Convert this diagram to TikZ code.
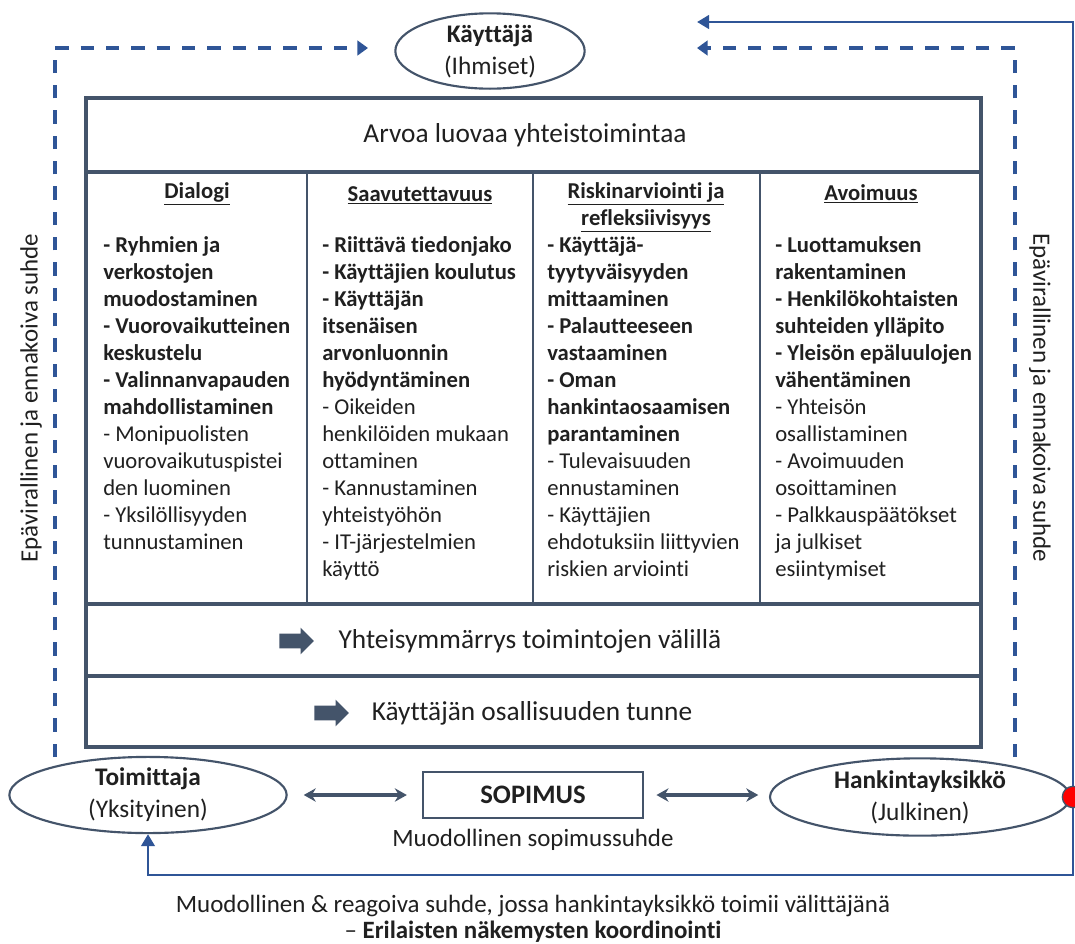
\documentclass[tikz,border=0pt]{standalone}
\usepackage{fontspec}
\setmainfont{Carlito}[Ligatures=NoCommon]
\usepackage{xcolor}
\usetikzlibrary{arrows.meta,
  positioning,
  shapes.geometric,
  shapes.arrows}

\definecolor{framegray}{HTML}{44546A}
\definecolor{linkblue}{HTML}{2F5597}
\definecolor{inkblack}{HTML}{202020}

\tikzset{
  party/.style={ellipse,draw=framegray,line width=1.6pt,fill=white,
    align=center,inner sep=0pt,text=inkblack,font=\fontsize{19}{24}\selectfont},
  frame/.style={framegray,line width=3pt},
  divider/.style={framegray,line width=1.8pt},
  colhead/.style={align=center,inner sep=0pt,text=inkblack,
    font=\fontsize{17}{20.25}\selectfont\bfseries},
  colbody/.style={anchor=north west,align=left,inner sep=0pt,text=inkblack,
    font=\fontsize{17}{20.25}\selectfont},
  rowtext/.style={text=inkblack,font=\fontsize{20.5}{24}\selectfont},
  plaintext/.style={text=inkblack,align=center,font=\fontsize{18.7}{19.5}\selectfont},
  fatarrow/.style={single arrow,fill=framegray,inner sep=0pt,inner ysep=5.25pt,
    single arrow head extend=4.5pt,single arrow tip angle=90,minimum height=26pt},
  dashlink/.style={linkblue,line width=3pt,dash pattern=on 10pt off 9pt,
    -{Triangle[length=8pt,width=11pt]}},
  solidlink/.style={linkblue,line width=2.2pt,-{Triangle[length=9pt,width=10pt]}},
  twoway/.style={framegray,line width=2.4pt,
    {Stealth[length=9pt,width=10pt]}-{Stealth[length=9pt,width=10pt]}},
}

\begin{document}
\begin{tikzpicture}[x=0.75pt,y=-0.75pt]
  \useasboundingbox[fill=white] (0,0) rectangle (1075,943);

  % Parties
  \node[party,minimum width=142pt,minimum height=54pt] (kayttaja) at (490,51)
    {\textbf{Käyttäjä}\\(Ihmiset)};
  \node[party,minimum width=208pt,minimum height=56pt] (toim) at (148,795)
    {\textbf{Toimittaja}\\(Yksityinen)};
  \node[party,minimum width=225pt,minimum height=58pt] (hank) at (920,797)
    {\textbf{Hankintayksikkö}\\(Julkinen)};
  \node[draw=framegray,line width=2.2pt,minimum width=165pt,minimum height=34.5pt,
    inner sep=0pt,text=inkblack,font=\fontsize{20}{22}\selectfont\bfseries]
    (sopimus) at (533,795) {SOPIMUS};
  \node[plaintext,below=4pt of sopimus] (sopsuhde) {Muodollinen sopimussuhde};

  % Main table
  \draw[frame] (86,98) rectangle (981,747);
  \draw[frame] (86,172) -- (981,172);
  \draw[frame] (86,604) -- (981,604);
  \draw[frame] (86,676) -- (981,676);
  \foreach \xd in {307,533,760}
    \draw[divider] (\xd,172) -- (\xd,604);

  \node[rowtext] (arvoa) at (525,135) {Arvoa luovaa yhteistoimintaa};
  \node[fatarrow] (nuoli1) at (293,641) {};
  \node[rowtext] (yhteis) at (530,641) {Yhteisymmärrys toimintojen välillä};
  \node[fatarrow] (nuoli2) at (328,713) {};
  \node[rowtext] (osallisuus) at (532,713) {Käyttäjän osallisuuden tunne};

  % Column heads
  \node[colhead] (dialogi) at (197,194) {\underline{Dialogi}};
  \node[colhead] (saavu) at (420,195) {\underline{Saavutettavuus}};
  \node[colhead] (riski) at (646,207) {\underline{Riskinarviointi ja}\\\underline{refleksiivisyys}};
  \node[colhead] (avoim) at (871,194) {\underline{Avoimuus}};

  % Column bodies
  \node[colbody] (dialogitxt) at (103,236) {%
    \textbf{- Ryhmien ja}\\\textbf{verkostojen}\\\textbf{muodostaminen}\\
    \textbf{- Vuorovaikutteinen}\\\textbf{keskustelu}\\
    \textbf{- Valinnanvapauden}\\\textbf{mahdollistaminen}\\
    - Monipuolisten\\vuorovaikutuspistei\\den luominen\\
    - Yksilöllisyyden\\tunnustaminen};
  \node[colbody] (saavutxt) at (322,236) {%
    \textbf{- Riittävä tiedonjako}\\\textbf{- Käyttäjien koulutus}\\
    \textbf{- Käyttäjän}\\\textbf{itsenäisen}\\\textbf{arvonluonnin}\\\textbf{hyödyntäminen}\\
    - Oikeiden\\henkilöiden mukaan\\ottaminen\\
    - Kannustaminen\\yhteistyöhön\\
    - IT-järjestelmien\\käyttö};
  \node[colbody] (riskitxt) at (547,236) {%
    \textbf{- Käyttäjä-}\\\textbf{tyytyväisyyden}\\\textbf{mittaaminen}\\
    \textbf{- Palautteeseen}\\\textbf{vastaaminen}\\
    \textbf{- Oman}\\\textbf{hankintaosaamisen}\\\textbf{parantaminen}\\
    - Tulevaisuuden\\ennustaminen\\
    - Käyttäjien\\ehdotuksiin liittyvien\\riskien arviointi};
  \node[colbody] (avoimtxt) at (775,236) {%
    \textbf{- Luottamuksen}\\\textbf{rakentaminen}\\
    \textbf{- Henkilökohtaisten}\\\textbf{suhteiden ylläpito}\\
    \textbf{- Yleisön epäluulojen}\\\textbf{vähentäminen}\\
    - Yhteisön\\osallistaminen\\
    - Avoimuuden\\osoittaminen\\
    - Palkkauspäätökset\\ja julkiset\\esiintymiset};

  % Informal relations
  \coordinate (leftin) at (368,48);
  \coordinate (rightin) at (697,48);
  \draw[dashlink] (55,757) -- (55,48) -- (leftin);
  \draw[dashlink] (1015,757) -- (1015,48) -- (rightin);
  \node[plaintext,rotate=90] (leftlbl) at (31,398) {Epävirallinen ja ennakoiva suhde};
  \node[plaintext,rotate=-90] (rightlbl) at (1040,398) {Epävirallinen ja ennakoiva suhde};

  % Formal relations
  \draw[twoway,shorten <=12pt,shorten >=11pt] (toim.east |- sopimus) -- (sopimus.west);
  \draw[twoway,shorten <=9pt,shorten >=8pt] (sopimus.east) -- (hank.west |- sopimus);

  \coordinate (hook) at (1073,797);
  \coordinate (topin) at (697,22);
  \draw[solidlink] (hook) -- (1073,22) -- (topin);
  \draw[solidlink] (hook) -- (1073,875) -| (toim.south);
  \node[circle,fill=red,draw=framegray,line width=1pt,minimum size=16pt,inner sep=0pt]
    (reddot) at (hook) {};

  \node[plaintext] (reagoiva) at (533,919)
    {Muodollinen \& reagoiva suhde, jossa hankintayksikkö toimii välittäjänä\\
     – \textbf{Erilaisten näkemysten koordinointi}};
\end{tikzpicture}
\end{document}
